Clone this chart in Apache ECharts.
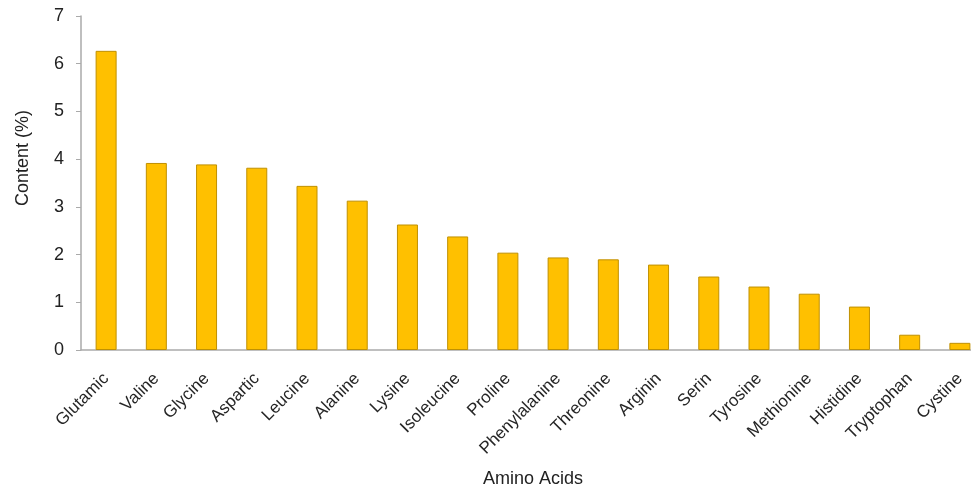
<!DOCTYPE html>
<html><head><meta charset="utf-8">
<script src="https://cdn.jsdelivr.net/npm/echarts@6/dist/echarts.min.js"></script>
<style>html,body{margin:0;padding:0;background:#fff}#c{width:971px;height:490px}</style>
</head><body><div id="c"></div>
<script>
const categories = ['Glutamic','Valine','Glycine','Aspartic','Leucine','Alanine','Lysine','Isoleucine','Proline','Phenylalanine','Threonine','Arginin','Serin','Tyrosine','Methionine','Histidine','Tryptophan','Cystine'];
const contentValues = [6.27, 3.92, 3.89, 3.82, 3.44, 3.13, 2.63, 2.38, 2.04, 1.94, 1.90, 1.79, 1.54, 1.33, 1.18, 0.91, 0.32, 0.15];
const yTicks = [0, 1, 2, 3, 4, 5, 6, 7];

const chart = echarts.init(document.getElementById('c'));
chart.setOption({
  animation: false,
  grid: { left: 81, width: 904, top: 16, height: 334, containLabel: false, outerBoundsMode: 'none' },
  xAxis: {
    type: 'category', data: categories,
    name: 'Amino Acids', nameLocation: 'middle', nameGap: 120,
    nameTextStyle: { fontFamily: 'Liberation Sans', fontSize: 18, color: '#222' },
    axisLine: { lineStyle: { color: '#aaaaaa', width: 1.5 } },
    axisTick: { show: false },
    axisLabel: { rotate: 45, interval: 0, margin: 26, fontFamily: 'Liberation Sans', fontSize: 17, color: '#262626' }
  },
  yAxis: {
    type: 'value', min: yTicks[0], max: yTicks[yTicks.length - 1], interval: 1,
    name: 'Content (%)', nameLocation: 'middle', nameGap: 49,
    nameTextStyle: { fontFamily: 'Liberation Sans', fontSize: 18, color: '#222', padding: [0, 0, 0, 50] },
    axisLine: { show: true, lineStyle: { color: '#aaaaaa', width: 1.5 } },
    axisTick: { show: true, length: 5, lineStyle: { color: '#aaaaaa' } },
    splitLine: { show: false },
    axisLabel: { margin: 17, fontFamily: 'Liberation Sans', fontSize: 18, color: '#222' }
  },
  series: [{
    type: 'bar', data: contentValues, barWidth: 21,
    itemStyle: { color: '#FFC000', borderColor: '#C09000', borderWidth: 1 }
  }]
});
</script></body></html>
